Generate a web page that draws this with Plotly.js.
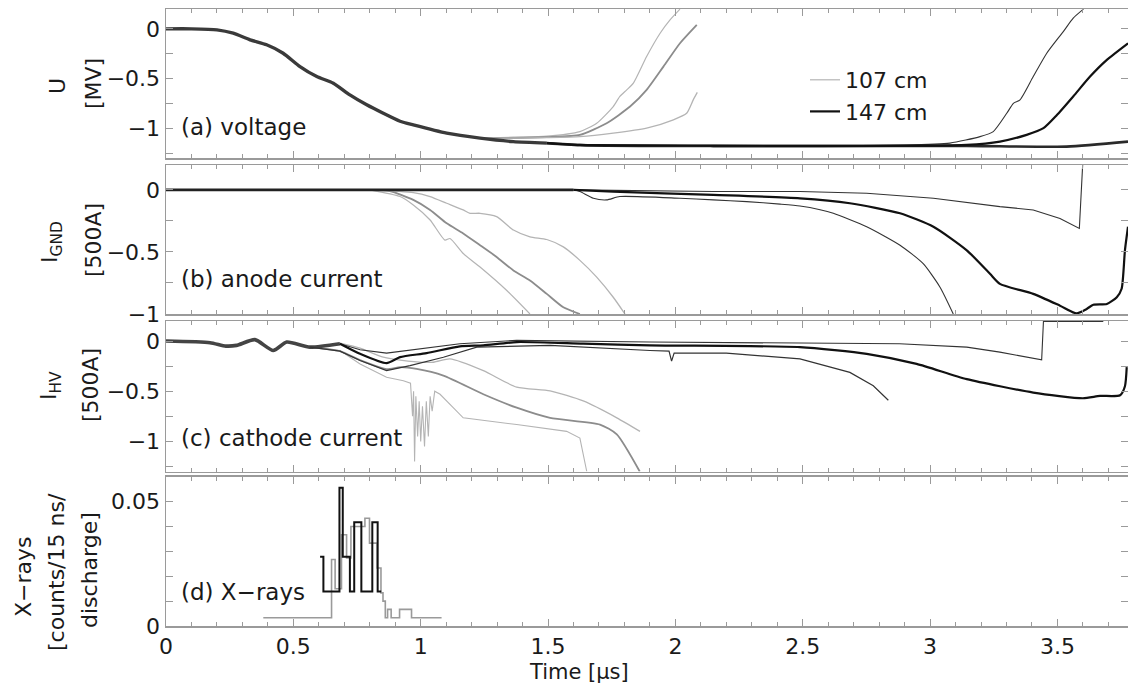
<!DOCTYPE html>
<html><head><meta charset="utf-8">
<script src="https://cdn.plot.ly/plotly-3.0.1.min.js"></script>
<style>html,body{margin:0;padding:0;background:#fff}#chart{width:1128px;height:686px}</style>
</head><body><div id="chart"></div>
<script>
// ---------- Panel (a) voltage U [MV] ----------
const aCommonT = [0, 0.1, 0.2, 0.264, 0.33, 0.395, 0.46, 0.526, 0.592, 0.657, 0.722, 0.788, 0.853, 0.919, 0.971, 1.102, 1.233, 1.364, 1.495];
const aCommonV = [0, 0, -0.01, -0.044, -0.11, -0.16, -0.245, -0.38, -0.48, -0.547, -0.665, -0.765, -0.85, -0.93, -0.967, -1.05, -1.10, -1.135, -1.15];
const aGray1T = [1.233, 1.364, 1.495, 1.625, 1.691, 1.756, 1.782, 1.809, 1.835, 1.887, 1.94, 1.979, 2.018];
const aGray1V = [-1.10, -1.09, -1.08, -1.034, -0.95, -0.782, -0.68, -0.614, -0.547, -0.279, -0.044, 0.09, 0.198];
const aGray2T = [1.233, 1.364, 1.495, 1.625, 1.73, 1.822, 1.887, 1.953, 2.018, 2.084];
const aGray2V = [-1.10, -1.10, -1.09, -1.067, -0.95, -0.782, -0.614, -0.38, -0.145, 0.04];
const aGray3T = [1.233, 1.364, 1.495, 1.625, 1.756, 1.887, 1.992, 2.044, 2.07, 2.086];
const aGray3V = [-1.10, -1.10, -1.095, -1.085, -1.05, -1.0, -0.916, -0.85, -0.715, -0.64];
const aBlk1T = [1.495, 1.625, 2.149, 2.568, 2.9, 3.078, 3.196, 3.248, 3.301, 3.327, 3.353, 3.405, 3.458, 3.523, 3.562, 3.602];
const aBlk1V = [-1.15, -1.168, -1.175, -1.175, -1.17, -1.15, -1.085, -1.034, -0.85, -0.75, -0.715, -0.48, -0.245, -0.027, 0.108, 0.198];
const aBlk2T = [1.495, 1.625, 2.149, 2.568, 3.144, 3.274, 3.379, 3.445, 3.497, 3.562, 3.628, 3.694, 3.777];
const aBlk2V = [-1.15, -1.168, -1.175, -1.178, -1.168, -1.135, -1.067, -1.0, -0.87, -0.68, -0.48, -0.312, -0.145];
const aBlk3T = [1.495, 1.625, 2.149, 2.568, 3.144, 3.536, 3.777];
const aBlk3V = [-1.15, -1.17, -1.18, -1.18, -1.178, -1.185, -1.135];

// ---------- Panel (b) anode current I_GND [500A] ----------
const bCommonT = [0, 0.5, 1.0, 1.6];
const bCommonV = [0, 0, 0, 0];
const bGray1T = [0.80, 0.919, 0.971, 1.037, 1.095, 1.115, 1.167, 1.233, 1.338, 1.429];
const bGray1V = [0, -0.054, -0.122, -0.243, -0.405, -0.392, -0.513, -0.622, -0.811, -1.0];
const bGray2T = [0.80, 0.879, 0.971, 1.037, 1.102, 1.167, 1.233, 1.298, 1.364, 1.429, 1.495, 1.56, 1.625];
const bGray2V = [0, -0.01, -0.081, -0.162, -0.27, -0.351, -0.446, -0.541, -0.649, -0.73, -0.838, -0.946, -1.0];
const bGray3T = [0.80, 0.971, 1.037, 1.102, 1.167, 1.194, 1.233, 1.298, 1.364, 1.429, 1.495, 1.56, 1.625, 1.691, 1.756, 1.802];
const bGray3V = [0, -0.022, -0.054, -0.108, -0.162, -0.189, -0.189, -0.216, -0.324, -0.378, -0.4, -0.459, -0.568, -0.703, -0.865, -1.0];
const bBlkAT = [1.6, 1.625, 1.678, 1.73, 1.782, 2.018, 2.149, 2.28, 2.411, 2.489, 2.568, 2.62, 2.751, 2.882, 2.973, 3.039, 3.091];
const bBlkAV = [0, -0.014, -0.068, -0.081, -0.054, -0.068, -0.081, -0.095, -0.115, -0.13, -0.16, -0.189, -0.297, -0.446, -0.595, -0.784, -1.0];
const bBlkBT = [1.6, 1.756, 2.149, 2.489, 2.685, 2.882, 3.013, 3.144, 3.235, 3.274, 3.405, 3.51, 3.575, 3.615, 3.641, 3.694, 3.733, 3.752, 3.765, 3.777];
const bBlkBV = [0, -0.014, -0.041, -0.068, -0.108, -0.189, -0.297, -0.487, -0.676, -0.757, -0.838, -0.933, -0.995, -0.959, -0.925, -0.919, -0.865, -0.797, -0.487, -0.297];
const bBlkCT = [1.6, 2.149, 2.489, 2.751, 3.013, 3.274, 3.405, 3.51, 3.586, 3.599];
const bBlkCV = [0, -0.014, -0.014, -0.027, -0.068, -0.135, -0.162, -0.23, -0.311, 0.2];

// ---------- Panel (c) cathode current I_HV [500A] ----------
const cCommonT = [0, 0.173, 0.235, 0.277, 0.349, 0.421, 0.474, 0.565, 0.683];
const cCommonV = [0, -0.016, -0.05, -0.043, 0.014, -0.094, -0.01, -0.06, -0.026];
const cBlkThickT = [0.683, 0.762, 0.866, 0.919, 1.023, 1.154, 1.246, 1.377, 1.638, 1.90, 2.489, 2.751, 2.947, 3.144, 3.405, 3.60, 3.667, 3.746, 3.765, 3.772];
const cBlkThickV = [-0.026, -0.127, -0.22, -0.16, -0.12, -0.053, -0.043, -0.01, -0.026, -0.043, -0.06, -0.127, -0.228, -0.38, -0.513, -0.57, -0.547, -0.54, -0.45, -0.26];
const cBlkUpT = [0.683, 0.762, 0.866, 1.023, 1.154, 1.377, 1.90, 2.489, 2.88, 3.144, 3.274, 3.438, 3.445, 3.68];
const cBlkUpV = [-0.026, -0.087, -0.12, -0.07, -0.026, 0.007, -0.01, -0.02, -0.026, -0.06, -0.11, -0.187, 0.195, 0.195];
const cBlkLowT = [0.565, 0.683, 0.762, 0.866, 0.958, 1.089, 1.22, 1.508, 1.90, 1.975, 1.985, 1.995, 2.2, 2.489, 2.685, 2.777, 2.836];
const cBlkLowV = [-0.06, -0.1, -0.194, -0.295, -0.245, -0.161, -0.06, -0.043, -0.094, -0.1, -0.2, -0.12, -0.12, -0.177, -0.312, -0.446, -0.59];
const cGray1T = [0.565, 0.683, 0.762, 0.866, 0.932, 0.960, 0.968, 0.972, 0.976, 0.981, 0.988, 0.994, 1.0, 1.007, 1.015, 1.022, 1.03, 1.037, 1.045, 1.055, 1.076, 1.115, 1.167, 1.377, 1.573, 1.625, 1.652];
const cGray1V = [-0.06, -0.094, -0.228, -0.36, -0.396, -0.42, -0.75, -0.5, -1.2, -0.55, -0.95, -0.6, -1.0, -0.65, -1.05, -0.6, -0.95, -0.55, -0.7, -0.5, -0.53, -0.63, -0.765, -0.832, -0.9, -0.967, -1.3];
const cGray2T = [0.565, 0.683, 0.762, 0.866, 0.92, 0.984, 1.089, 1.246, 1.377, 1.508, 1.704, 1.77, 1.86];
const cGray2V = [-0.06, -0.1, -0.19, -0.28, -0.26, -0.278, -0.345, -0.53, -0.664, -0.765, -0.832, -0.93, -1.3];
const cGray3T = [0.683, 0.762, 0.853, 0.95, 1.05, 1.115, 1.246, 1.377, 1.508, 1.638, 1.77, 1.861];
const cGray3V = [-0.02, -0.07, -0.161, -0.2, -0.211, -0.177, -0.295, -0.46, -0.497, -0.597, -0.765, -0.9];

// ---------- Panel (d) X-rays [counts/15 ns/discharge] ----------
const dGrayT = [0.382, 0.650, 0.664, 0.689, 0.709, 0.726, 0.781, 0.799, 0.829, 0.844, 0.852, 0.861, 0.870, 0.884, 0.917, 0.964, 1.082];
const dGrayV = [0.0033, 0.0267, 0.015, 0.0367, 0.0273, 0.040, 0.0433, 0.0333, 0.0233, 0.0133, 0.0100, 0.0033, 0.0067, 0.0033, 0.0067, 0.0033, 0.0033];
const dBlkT = [0.605, 0.618, 0.681, 0.694, 0.722, 0.739, 0.767, 0.810, 0.831, 0.845];
const dBlkV = [0.0278, 0.0139, 0.0556, 0.0278, 0.0139, 0.0417, 0.0139, 0.0417, 0.0139, 0.0139];

// ---------- labels ----------
const legendNames = ['107 cm', '147 cm'];
const panelLabels = ['(a) voltage', '(b) anode current', '(c) cathode current', '(d) X\u2212rays'];
const yTitleLines = [
  ['U', '[MV]'],
  ['I<sub>GND</sub>', '[500A]'],
  ['I<sub>HV</sub>', '[500A]'],
  ['X\u2212rays', '[counts/15 ns/', 'discharge]']
];
const xTitle = 'Time [\u03bcs]';

const GRAY_L = '#b4b4b4', GRAY_M = '#8c8c8c', BLK = '#111111', BLK_T = '#333333';
function tr(x, y, ax, color, width, extra, shape) {
  return Object.assign({
    type: 'scatter', mode: 'lines', x: x, y: y,
    xaxis: 'x' + (ax === 1 ? '' : ax), yaxis: 'y' + (ax === 1 ? '' : ax),
    line: {color: color, width: width, shape: shape || 'spline', smoothing: 0.6}, showlegend: false, hoverinfo: 'skip'
  }, extra || {});
}

const data = [
  // (a)
  tr(aGray1T, aGray1V, 1, GRAY_L, 1.2, {name: legendNames[0], showlegend: true}),
  tr(aGray2T, aGray2V, 1, GRAY_M, 1.8),
  tr(aGray3T, aGray3V, 1, GRAY_L, 1.3),
  tr(aCommonT, aCommonV, 1, '#3a3a3a', 3.4),
  tr(aBlk3T, aBlk3V, 1, '#2a2a2a', 2.6),
  tr(aBlk1T, aBlk1V, 1, BLK_T, 1.1),
  tr(aBlk2T, aBlk2V, 1, BLK, 2.2, {name: legendNames[1], showlegend: true}),
  // (b)
  tr(bGray1T, bGray1V, 2, GRAY_L, 1.2),
  tr(bGray2T, bGray2V, 2, GRAY_M, 1.8),
  tr(bGray3T, bGray3V, 2, GRAY_L, 1.3),
  tr(bCommonT, bCommonV, 2, '#222222', 2.6, null, 'linear'),
  tr(bBlkAT, bBlkAV, 2, BLK_T, 1.1),
  tr(bBlkCT, bBlkCV, 2, BLK_T, 1.1, null, 'linear'),
  tr(bBlkBT, bBlkBV, 2, BLK, 2.2),
  // (c)
  tr(cGray1T, cGray1V, 3, GRAY_L, 1.1, null, 'linear'),
  tr(cGray2T, cGray2V, 3, GRAY_M, 1.8),
  tr(cGray3T, cGray3V, 3, GRAY_L, 1.3),
  tr(cCommonT, cCommonV, 3, '#444444', 3.6),
  tr(cBlkLowT, cBlkLowV, 3, BLK_T, 1.2, null, 'linear'),
  tr(cBlkUpT, cBlkUpV, 3, BLK_T, 1.1, null, 'linear'),
  tr(cBlkThickT, cBlkThickV, 3, BLK, 2.2),
  // (d)
  tr(dGrayT, dGrayV, 4, '#9a9a9a', 1.6, null, 'hv'),
  tr(dBlkT, dBlkV, 4, BLK, 2.0, null, 'hv')
];

const FONT = 'DejaVu Sans, Arial, sans-serif';
const FRAME = '#9a9a9a';
const TXT = '#1a1a1a';
function xax(anchor, labels) {
  return {
    domain: [0, 1], anchor: anchor, range: [0, 3.777], dtick: 0.5, tick0: 0,
    ticks: 'inside', ticklen: 7, tickwidth: 1, tickcolor: FRAME,
    minor: {dtick: 0.1, ticks: 'inside', ticklen: 4, tickcolor: FRAME, tickwidth: 1},
    showline: true, linecolor: FRAME, linewidth: 1.5, mirror: 'ticks',
    showgrid: false, zeroline: false, showticklabels: labels,
    tickfont: {family: FONT, size: 22, color: TXT}
  };
}
function yax(dom, range, dtick, minor, anchor) {
  return {
    domain: dom, anchor: anchor, range: range, dtick: dtick, tick0: 0,
    ticks: 'inside', ticklen: 7, tickwidth: 1, tickcolor: FRAME,
    minor: {dtick: minor, ticks: 'inside', ticklen: 7, tickcolor: FRAME, tickwidth: 1},
    showline: true, linecolor: FRAME, linewidth: 1.5, mirror: 'ticks',
    showgrid: false, zeroline: false,
    tickfont: {family: FONT, size: 22, color: TXT}
  };
}

const P = 617, TOP = 9, L = 166, W = 962;
const py = v => (626 - v) / P;
const px = v => (v - L) / W;

const annotations = [];
const labelY = [127, 279, 438, 592];
panelLabels.forEach((t, i) => annotations.push({
  xref: 'paper', yref: 'paper', x: px(179), y: py(labelY[i]), xanchor: 'left', yanchor: 'middle',
  text: t, showarrow: false, font: {family: FONT, size: 23, color: TXT}
}));
const yTitleX = [[58, 93], [52, 93], [50, 90], [23, 56, 89]];
const yTitleY = [[86, 84], [242, 240], [386, 385], [577, 572, 570]];
yTitleLines.forEach((lines, i) => lines.forEach((t, j) => annotations.push({
  xref: 'paper', yref: 'paper', x: px(yTitleX[i][j]), y: py(yTitleY[i][j]), xanchor: 'center', yanchor: 'middle',
  text: t, textangle: -90, showarrow: false, font: {family: FONT, size: 22, color: TXT}
})));
annotations.push({
  xref: 'paper', yref: 'paper', x: px(579), y: py(672), xanchor: 'center', yanchor: 'middle',
  text: xTitle, showarrow: false, font: {family: FONT, size: 21, color: TXT}
});

const layout = {
  width: 1128, height: 686,
  margin: {l: L, r: 0, t: TOP, b: 60},
  paper_bgcolor: '#fff', plot_bgcolor: '#fff',
  font: {family: FONT, size: 22, color: TXT},
  showlegend: true,
  legend: {x: px(805), y: py(59), xanchor: 'left', yanchor: 'top', bgcolor: 'rgba(0,0,0,0)',
           font: {family: FONT, size: 22, color: TXT}, itemwidth: 30, tracegroupgap: 0},
  xaxis: xax('y', false),
  yaxis: yax([py(158), 1], [-1.3, 0.2], 0.5, 0.25, 'x'),
  xaxis2: xax('y2', false),
  yaxis2: yax([py(314), py(165)], [-1.0, 0.2], 0.5, 0.25, 'x2'),
  xaxis3: xax('y3', false),
  yaxis3: yax([py(471.5), py(321)], [-1.3, 0.2], 0.5, 0.25, 'x3'),
  xaxis4: xax('y4', true),
  yaxis4: yax([0, py(476.7)], [0, 0.06], 0.05, 0.01, 'x4'),
  annotations: annotations
};
Plotly.newPlot('chart', data, layout, {staticPlot: true, displayModeBar: false});
</script></body></html>
